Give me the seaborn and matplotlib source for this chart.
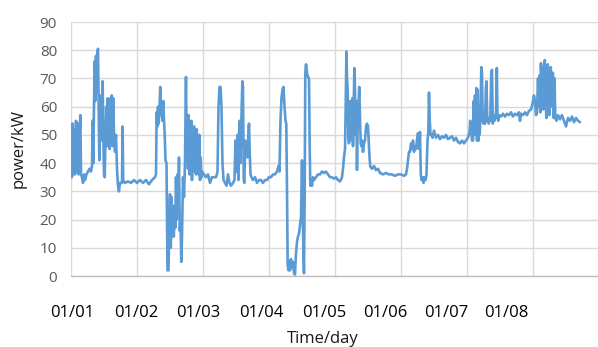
import matplotlib
matplotlib.use("Agg")
import matplotlib.pyplot as plt
import seaborn as sns
import pandas as pd

# ---- data (time in days since 01/01 00:00, power in kW) ----
t1 = [0.015,0.023,0.030,0.045,0.061,0.076,0.091,0.106,0.117,0.129,
      0.141,0.152,0.167,0.182,0.197,0.212,0.235,0.258,0.280,0.303,
      0.318,0.329,0.338,0.348,0.359,0.368,0.379,0.389,0.398,0.409,
      0.420,0.429,0.439,0.450,0.459,0.470,0.480,0.489,0.500,0.511,
      0.523,0.533,0.545,0.556,0.567,0.576,0.586,0.597,0.606,0.618,
      0.629,0.639,0.652,0.667,0.682,0.697,0.712,0.727,0.742,0.758,
      0.773,0.782,0.791,0.818,0.864,0.909,0.955]
p1 = [35,54,36,52,36,55,37,54,36,50,
      57,36,35,33,36,34,36,37,38,37,
      39,55,40,60,76,62,78,65,79,80.5,
      60,41,64,55,60,48,69,50,36,35,
      50,60,46,63,48,62,45,63,47,64,
      46,63,50,44,50,38,32,30,33,33,
      33,53,34,33,33.5,33,34]

t2 = [1.000,1.045,1.091,1.136,1.182,1.227,1.273,1.288,1.298,1.308,
      1.318,1.329,1.339,1.352,1.364,1.376,1.386,1.398,1.409,1.420,
      1.432,1.447,1.462,1.477,1.489,1.500,1.512,1.523,1.535,1.545,
      1.558,1.568,1.580,1.591,1.603,1.614,1.626,1.636,1.648,1.659,
      1.671,1.682,1.697,1.712,1.727,1.742,1.753,1.764,1.773,1.783,
      1.794,1.803,1.814,1.824,1.833,1.844,1.855,1.864,1.874,1.885,
      1.894,1.905,1.915,1.924,1.935,1.945,1.955,1.965,1.976,1.985]
p2 = [33,34,33,34,32.5,34,35,36,58,53,
      60,54,58,67,57,60,55,62,55,50,
      41,40,2,2,18,29,10,28,14,22,
      14,25,17,35,20,36,29,42,16,20,
      5,14,35,28,40,70.5,45,55,38,57,
      36,54,40,55,34,50,38,53,37,50,
      36,52,37,48,36,50,34,42,35,37]

t3 = [2.015,2.045,2.076,2.106,2.136,2.167,2.197,2.220,2.235,2.250,
      2.265,2.280,2.295,2.311,2.333,2.356,2.379,2.402,2.424,2.455,
      2.477,2.492,2.508,2.523,2.535,2.545,2.556,2.567,2.576,2.586,
      2.597,2.606,2.617,2.627,2.639,2.652,2.664,2.676,2.686,2.697,
      2.708,2.720,2.735,2.758,2.788,2.818,2.848,2.879,2.909,2.939,
      2.970]
p3 = [36,35,36,33,35,35,35,37,60,67,
      67,60,40,34,33,32,36,33,32,33,
      34,48,37,50,34,50,55,40,50,60,
      69,67,34,33,48,45,47,42,50,54,
      44,36,35,34,35,33,34,34,33,34,
      34]

t4 = [3.000,3.030,3.061,3.091,3.121,3.144,3.159,3.174,3.189,3.205,
      3.220,3.235,3.250,3.262,3.273,3.283,3.295,3.308,3.318,3.333,
      3.348,3.364,3.379,3.394,3.409,3.424,3.439,3.455,3.470,3.485,
      3.500,3.511,3.520,3.530,3.541,3.550,3.561,3.576,3.591,3.606,
      3.617,3.626,3.636,3.652,3.667,3.682,3.712,3.742,3.773,3.803,
      3.833,3.864,3.894,3.924,3.955,3.985]
p4 = [35,35,36,36,37,39,37,55,63,66,
      67,60,55,54,30,4,2,5,2,6,
      3,5,1,0.5,8,12,14,15,18,21,
      41,25,10,1,30,72,75,72,70.5,70,
      45,32,34,32,35,34,35,36,36,37,
      36.5,37,36,35,35,34.5]

t5 = [4.015,4.045,4.076,4.106,4.121,4.136,4.152,4.162,4.173,4.182,
      4.192,4.202,4.212,4.223,4.233,4.242,4.253,4.264,4.273,4.283,
      4.294,4.303,4.314,4.324,4.333,4.344,4.355,4.367,4.379,4.389,
      4.400,4.412,4.424,4.439,4.455,4.470,4.485,4.500,4.511,4.523,
      4.535,4.561,4.591,4.621,4.652,4.682,4.727,4.773,4.818,4.864,
      4.909,4.955]
p5 = [35,34,33.5,35,38,42,45,60,79.5,70,
      66,50,47,62,48,58,52,63,46,60,
      73.7,66,50,62,37.6,55,60,67,56,47,
      46,48,44,47,48,53,54,53,48,42,
      38.7,38,39,37.5,38,36.5,36,36.5,36,36,
      35.5,36]

t6 = [5.000,5.045,5.076,5.091,5.106,5.121,5.136,5.152,5.167,5.182,
      5.197,5.212,5.227,5.242,5.258,5.273,5.288,5.300,5.311,5.326,
      5.341,5.356,5.371,5.386,5.402,5.414,5.424,5.436,5.447,5.462,
      5.477,5.500,5.530,5.561,5.591,5.621,5.652,5.682,5.712,5.742,
      5.773,5.803,5.833,5.864,5.894,5.924,5.955,5.985]
p6 = [36,35.5,36,38,41,44,44,47,45,48,
      44,46,45,48,50.6,45,51,36,34,35,
      33,35,34,36,48,51,65,55,50,50,
      49,51.5,49,50,48.5,49.5,49,50,48.5,49,
      49.5,48,49,47.5,47,48,47,48]

t7 = [6.015,6.038,6.050,6.061,6.076,6.091,6.102,6.112,6.121,6.132,
      6.142,6.152,6.162,6.173,6.182,6.192,6.203,6.217,6.227,6.238,
      6.250,6.262,6.273,6.285,6.295,6.308,6.318,6.330,6.341,6.353,
      6.367,6.379,6.391,6.403,6.415,6.427,6.439,6.452,6.462,6.474,
      6.485,6.515,6.545,6.576,6.606,6.636,6.667,6.697,6.727,6.758,
      6.788,6.803,6.818,6.848,6.879,6.909,6.939,6.970,6.992]
p7 = [49,51,55,52,48,48,62,50,64,51,
      66.6,48,66,48,55,50,56,74,72,55,
      54,58,54,66,69,55,56,54,56,55,
      72,73,54,56,55,57,56,73.7,56,55,
      57,56.5,57.5,56.5,57.5,57,58,56.5,57.5,57,
      58,55,57.5,57,58,57,58.5,59,61]

t8 = [7.015,7.030,7.045,7.061,7.076,7.088,7.098,7.111,7.121,7.133,
      7.144,7.156,7.167,7.179,7.189,7.202,7.212,7.224,7.235,7.247,
      7.258,7.270,7.280,7.292,7.303,7.315,7.326,7.338,7.356,7.379,
      7.409,7.439,7.470,7.500,7.530,7.561,7.591,7.621,7.652,7.682,
      7.712]
p8 = [64,62,57,58,70,60,71,58,75.4,63,
      73,59,74,76.5,66,56,68,75,63,57,
      70,74,60,72,72,56,70,56,55,57,
      55.5,57,55,53,56,55,56.5,54.5,56,55,
      54.5]

day_labels = ["01/01", "01/02", "01/03", "01/04", "01/05", "01/06", "01/07", "01/08"]
y_ticks = [0, 10, 20, 30, 40, 50, 60, 70, 80, 90]

times = t1 + t2 + t3 + t4 + t5 + t6 + t7 + t8
powers = p1 + p2 + p3 + p4 + p5 + p6 + p7 + p8
df = pd.DataFrame({"time": times, "power": powers})

# ---- style ----
sns.set_theme(style="white")
plt.rcParams["font.family"] = ["Open Sans", "DejaVu Sans"]

W, H = 598, 347
fig = plt.figure(figsize=(W / 100, H / 100), dpi=100)
ax = fig.add_axes([71 / W, 71 / H, 527 / W, 254 / H])

sns.lineplot(data=df, x="time", y="power", ax=ax, color="#5B9BD5",
             linewidth=1.9, estimator=None, sort=False)

ax.set_xlim(0, 7.985)
ax.set_ylim(0, 90)
ax.set_yticks(y_ticks)
ax.set_xticks(range(0, 8), minor=True)
label_pos = [0.015, 0.985, 1.924, 2.879, 3.833, 4.758, 5.682, 6.591]
ax.set_xticks(label_pos)
ax.set_xticklabels(day_labels)

ax.grid(False)
ax.xaxis.grid(True, which="minor", color="#D9D9D9", linewidth=1)
ax.yaxis.grid(True, which="major", color="#D9D9D9", linewidth=1)
ax.set_axisbelow(True)

ax.tick_params(axis="both", which="both", length=0)
ax.tick_params(axis="y", labelsize=11, labelcolor="#595959", pad=10)
ax.tick_params(axis="x", labelsize=12, labelcolor="black", pad=21)

for s in ["top", "right", "left"]:
    ax.spines[s].set_visible(False)
ax.spines["bottom"].set_color("#BFBFBF")
ax.spines["bottom"].set_linewidth(1)

ax.set_xlabel("Time/day", fontsize=12, color="#1a1a1a")
ax.xaxis.label.set_va("center")
ax.xaxis.set_label_coords(0.478, -0.248)
ax.set_ylabel("power/kW", fontsize=12, color="#1a1a1a")
ax.yaxis.label.set_va("center")
ax.yaxis.set_label_coords(-0.099, 0.5)

fig.savefig("out.png", dpi=100)
